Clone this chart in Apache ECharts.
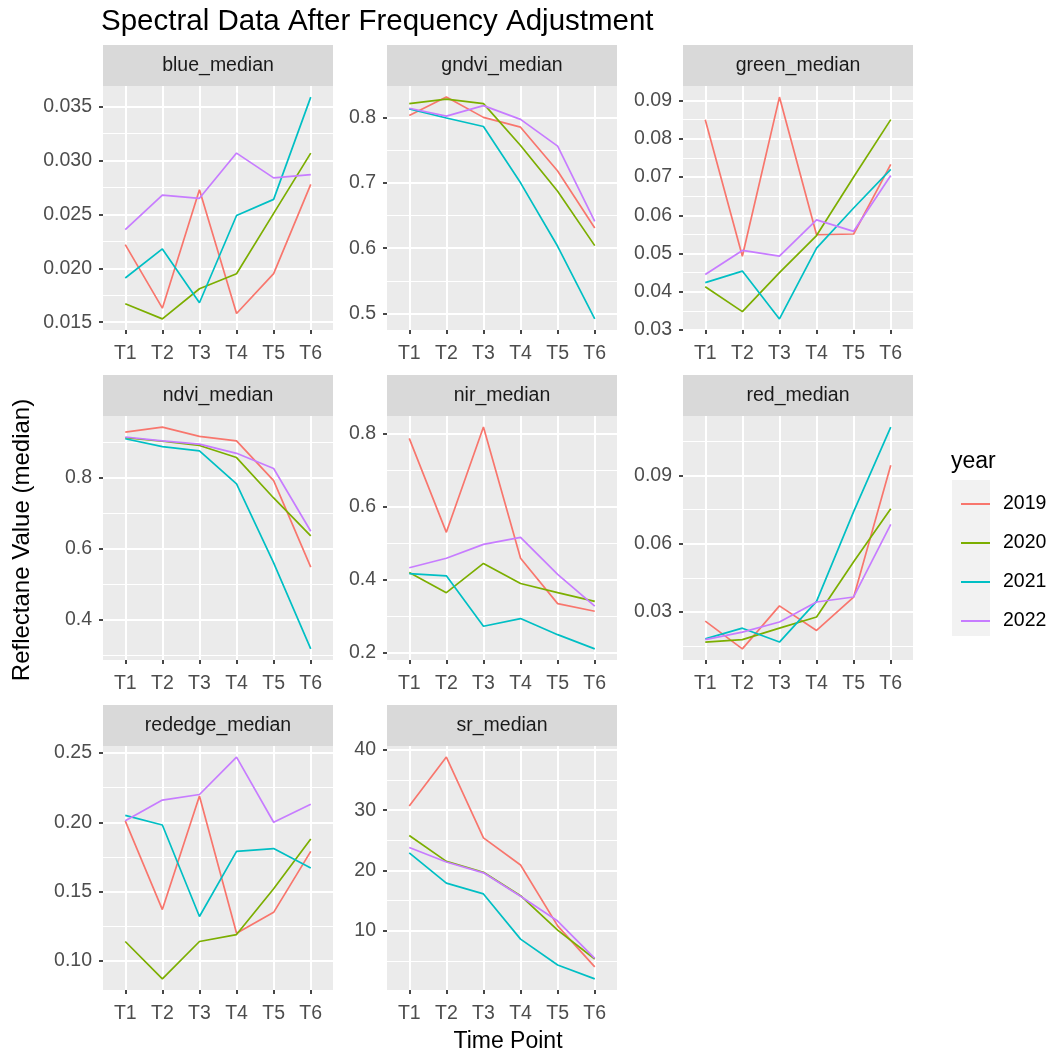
<!DOCTYPE html>
<html>
<head>
<meta charset="utf-8">
<script src="https://cdn.jsdelivr.net/npm/echarts@6/dist/echarts.min.js"></script>
<style>
  html, body { margin: 0; padding: 0; background: #ffffff; }
  #chart { width: 1052px; height: 1057px; }
</style>
</head>
<body>
<div id="chart"></div>
<script>
// ---- data -------------------------------------------------------------
const timePoints = ['T1', 'T2', 'T3', 'T4', 'T5', 'T6'];
const years = ['2019', '2020', '2021', '2022'];

// one row per year (2019, 2020, 2021, 2022), one value per time point
const blueMedian = [
  [0.0222, 0.0163, 0.0273, 0.0158, 0.0195, 0.0278],
  [0.0167, 0.0153, 0.0181, 0.0195, 0.0251, 0.0307],
  [0.0191, 0.0218, 0.0168, 0.0249, 0.0264, 0.0359],
  [0.0236, 0.0268, 0.0265, 0.0307, 0.0284, 0.0287]
];
const gndviMedian = [
  [0.803, 0.831, 0.800, 0.785, 0.718, 0.631],
  [0.821, 0.828, 0.821, 0.757, 0.687, 0.604],
  [0.813, 0.799, 0.786, 0.700, 0.603, 0.492],
  [0.814, 0.802, 0.818, 0.797, 0.756, 0.641]
];
const greenMedian = [
  [0.0850, 0.0493, 0.0909, 0.0549, 0.0551, 0.0733],
  [0.0413, 0.0348, 0.0450, 0.0547, 0.0700, 0.0850],
  [0.0424, 0.0454, 0.0329, 0.0514, 0.0619, 0.0720],
  [0.0445, 0.0508, 0.0493, 0.0588, 0.0558, 0.0704]
];
const ndviMedian = [
  [0.929, 0.943, 0.917, 0.904, 0.792, 0.548],
  [0.913, 0.903, 0.891, 0.857, 0.743, 0.636],
  [0.910, 0.888, 0.876, 0.783, 0.560, 0.317],
  [0.915, 0.904, 0.895, 0.869, 0.826, 0.649]
];
const nirMedian = [
  [0.787, 0.530, 0.818, 0.459, 0.335, 0.314],
  [0.420, 0.365, 0.445, 0.390, 0.365, 0.341],
  [0.417, 0.411, 0.273, 0.294, 0.250, 0.211],
  [0.433, 0.459, 0.497, 0.516, 0.415, 0.328]
];
const redMedian = [
  [0.0260, 0.0138, 0.0327, 0.0219, 0.0365, 0.0944],
  [0.0168, 0.0179, 0.0229, 0.0278, 0.0521, 0.0753],
  [0.0182, 0.0229, 0.0168, 0.0347, 0.0741, 0.1112],
  [0.0179, 0.0212, 0.0256, 0.0344, 0.0366, 0.0685]
];
const rededgeMedian = [
  [0.201, 0.137, 0.219, 0.120, 0.135, 0.179],
  [0.114, 0.087, 0.114, 0.119, 0.152, 0.188],
  [0.205, 0.198, 0.132, 0.179, 0.181, 0.167],
  [0.201, 0.216, 0.220, 0.247, 0.200, 0.213]
];
const srMedian = [
  [30.7, 38.8, 25.4, 20.9, 10.8, 4.0],
  [25.8, 21.5, 19.7, 15.8, 10.1, 5.3],
  [22.9, 17.9, 16.1, 8.6, 4.3, 2.0],
  [23.8, 21.4, 19.6, 15.7, 11.6, 5.4]
];

// y-axis tick labels for each facet
const blueTicks = [0.015, 0.020, 0.025, 0.030, 0.035];
const gndviTicks = [0.5, 0.6, 0.7, 0.8];
const greenTicks = [0.03, 0.04, 0.05, 0.06, 0.07, 0.08, 0.09];
const ndviTicks = [0.4, 0.6, 0.8];
const nirTicks = [0.2, 0.4, 0.6, 0.8];
const redTicks = [0.03, 0.06, 0.09];
const rededgeTicks = [0.10, 0.15, 0.20, 0.25];
const srTicks = [10, 20, 30, 40];

// ---- facet setup ------------------------------------------------------
const panels = [
  { name: 'blue_median',    values: blueMedian,    ticks: blueTicks,    decimals: 3 },
  { name: 'gndvi_median',   values: gndviMedian,   ticks: gndviTicks,   decimals: 1 },
  { name: 'green_median',   values: greenMedian,   ticks: greenTicks,   decimals: 2 },
  { name: 'ndvi_median',    values: ndviMedian,    ticks: ndviTicks,    decimals: 1 },
  { name: 'nir_median',     values: nirMedian,     ticks: nirTicks,     decimals: 1 },
  { name: 'red_median',     values: redMedian,     ticks: redTicks,     decimals: 2 },
  { name: 'rededge_median', values: rededgeMedian, ticks: rededgeTicks, decimals: 2 },
  { name: 'sr_median',      values: srMedian,      ticks: srTicks,      decimals: 0 }
];

const yearColors = ['#F8766D', '#7CAE00', '#00BFC4', '#C77CFF'];
const FONT = '"Liberation Sans", Arial, Helvetica, sans-serif';
const SMALL = 19.5;   // tick labels, strip text, legend labels
const MEDIUM = 23;    // axis titles, legend title
const LARGE = 29.5;   // plot title

const colLeft = [103, 387, 683];
const plotWidth = 230;
const firstStripTop = 45;
const rowStride = 330;
const stripHeight = 41;
const plotHeight = 244;
const xPositions = timePoints.map((t, i) => i + 1);

const grids = [], xAxes = [], yAxes = [], series = [], graphics = [];

panels.forEach((p, k) => {
  const col = k % 3;
  const row = Math.floor(k / 3);
  const left = colLeft[col];
  const stripTop = firstStripTop + row * rowStride;
  const top = stripTop + stripHeight;

  grids.push({
    left: left, top: top, width: plotWidth, height: plotHeight,
    show: true, backgroundColor: '#EBEBEB', borderWidth: 0
  });

  // continuous scale padded by 5% of the data range on each side
  const all = p.values.flat();
  const lo = Math.min(...all), hi = Math.max(...all);
  const pad = 0.05 * (hi - lo);
  const yMin = lo - pad, yMax = hi + pad;

  // minor breaks halfway between the major ones
  const step = p.ticks[1] - p.ticks[0];
  const minor = [];
  for (let i = -1; i <= p.ticks.length; i++) {
    const m = p.ticks[0] + (i + 0.5) * step;
    if (m > yMin && m < yMax) minor.push(+m.toFixed(6));
  }

  xAxes.push({
    gridIndex: k, type: 'value', min: 0.4, max: 6.6,
    axisLine: { show: false },
    axisTick: { show: true, customValues: xPositions, length: 4,
                lineStyle: { color: '#333333', width: 1.8 } },
    axisLabel: { customValues: xPositions, margin: 14,
                 formatter: v => timePoints[Math.round(v) - 1],
                 color: '#4D4D4D', fontSize: SMALL, fontFamily: FONT },
    splitLine: { show: true, lineStyle: { color: '#FFFFFF', width: 2 } }
  });

  yAxes.push({
    gridIndex: k, type: 'value', min: yMin, max: yMax, position: 'left',
    axisLine: { show: false },
    axisTick: { show: true, customValues: p.ticks, length: 4,
                lineStyle: { color: '#333333', width: 1.8 } },
    axisLabel: { customValues: p.ticks, margin: 11,
                 formatter: v => v.toFixed(p.decimals),
                 color: '#4D4D4D', fontSize: SMALL, fontFamily: FONT },
    splitLine: { show: true, lineStyle: { color: '#FFFFFF', width: 2 } }
  });
  yAxes.push({
    gridIndex: k, type: 'value', min: yMin, max: yMax, position: 'left',
    axisLine: { show: false },
    axisTick: { show: false, customValues: minor },
    axisLabel: { show: false, customValues: minor },
    splitLine: { show: true, lineStyle: { color: '#FFFFFF', width: 1 } }
  });

  years.forEach((yr, j) => {
    series.push({
      name: yr, type: 'line',
      xAxisIndex: k, yAxisIndex: 2 * k,
      data: p.values[j].map((v, i) => [xPositions[i], v]),
      showSymbol: false, symbol: 'none', silent: true,
      lineStyle: { color: yearColors[j], width: 1.7 },
      itemStyle: { color: yearColors[j] },
      z: 3 + j
    });
  });

  // facet strip
  graphics.push({
    type: 'rect', silent: true,
    shape: { x: left, y: stripTop, width: plotWidth, height: stripHeight },
    style: { fill: '#D9D9D9' }
  });
  graphics.push({
    type: 'text', silent: true,
    x: left + plotWidth / 2, y: stripTop + stripHeight / 2,
    style: { text: p.name, fill: '#1A1A1A', fontSize: SMALL, fontFamily: FONT,
             textAlign: 'center', textVerticalAlign: 'middle',
             align: 'center', verticalAlign: 'middle' }
  });
});

// axis titles
graphics.push({
  type: 'text', silent: true, x: 22, y: 540, rotation: Math.PI / 2,
  style: { text: 'Reflectane Value (median)', fill: '#000000', fontSize: 24, fontFamily: FONT,
           textAlign: 'center', textVerticalAlign: 'middle', align: 'center', verticalAlign: 'middle' }
});
graphics.push({
  type: 'text', silent: true, x: 508, y: 1042,
  style: { text: 'Time Point', fill: '#000000', fontSize: MEDIUM, fontFamily: FONT,
           textAlign: 'center', textVerticalAlign: 'middle', align: 'center', verticalAlign: 'middle' }
});
// legend title and key background
graphics.push({
  type: 'text', silent: true, x: 951, y: 462,
  style: { text: 'year', fill: '#000000', fontSize: MEDIUM, fontFamily: FONT,
           textAlign: 'left', textVerticalAlign: 'middle', align: 'left', verticalAlign: 'middle' }
});
graphics.push({
  type: 'rect', silent: true, z: -1,
  shape: { x: 952, y: 480, width: 38, height: 156 },
  style: { fill: '#F2F2F2' }
});

const option = {
  backgroundColor: '#FFFFFF',
  animation: false,
  title: {
    text: 'Spectral Data After Frequency Adjustment',
    left: 96, top: 2,
    textStyle: { color: '#000000', fontSize: LARGE, fontWeight: 'normal', fontFamily: FONT }
  },
  legend: {
    data: years, orient: 'vertical', left: 956, top: 489,
    icon: 'rect', itemWidth: 29, itemHeight: 2, itemGap: 19,
    selectedMode: false,
    textStyle: { color: '#000000', fontSize: SMALL, fontFamily: FONT, lineHeight: 20,
                 padding: [0, 0, 0, 8] }
  },
  grid: grids,
  xAxis: xAxes,
  yAxis: yAxes,
  series: series,
  graphic: { elements: graphics }
};

const chart = echarts.init(document.getElementById('chart'), null, { renderer: 'canvas' });
chart.setOption(option);
</script>
</body>
</html>
